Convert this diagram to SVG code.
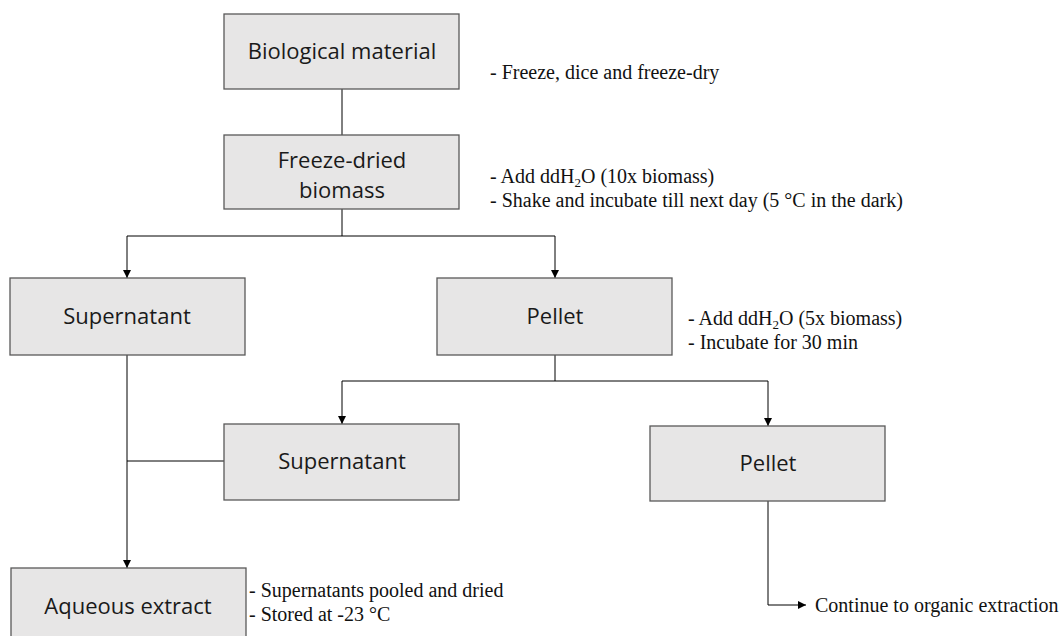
<svg xmlns="http://www.w3.org/2000/svg" width="1060" height="636" viewBox="0 0 1060 636">
<defs>
<marker id="arr" viewBox="0 0 10 10" refX="10" refY="5" markerWidth="8" markerHeight="8" markerUnits="userSpaceOnUse" orient="auto">
<path d="M0,0 L10,5 L0,10 z" fill="#000"/>
</marker>
</defs>
<style>
.box{fill:#e7e6e6;stroke:#595959;stroke-width:1.3}
.lbl{font-family:"Open Sans","Noto Sans",sans-serif;font-size:22px;fill:#1a1a1a;text-anchor:middle}
.note{font-family:"Liberation Serif","Times New Roman",serif;font-size:20px;fill:#111}
.ln{fill:none;stroke:#000;stroke-width:1}
.sub{font-size:13px}
</style>
<rect width="1060" height="636" fill="#fff"/>
<g id="connectors">
<path class="ln" d="M342,89 V135"/>
<path class="ln" d="M342,209 V236"/>
<path class="ln" d="M127,236 H555"/>
<path class="ln" d="M127,236 V278" marker-end="url(#arr)"/>
<path class="ln" d="M555,236 V278" marker-end="url(#arr)"/>
<path class="ln" d="M555,355 V381"/>
<path class="ln" d="M342,381 H768"/>
<path class="ln" d="M342,381 V424" marker-end="url(#arr)"/>
<path class="ln" d="M768,381 V426" marker-end="url(#arr)"/>
<path class="ln" d="M127,355 V568" marker-end="url(#arr)"/>
<path class="ln" d="M224,461 H127"/>
<path class="ln" d="M768,501 V605 H806" marker-end="url(#arr)"/>
</g>
<g id="biological-material">
<rect class="box" x="224" y="14" width="235" height="75"/>
<text class="lbl" x="342" y="59">Biological material</text>
</g>
<g id="freeze-dried-biomass">
<rect class="box" x="224" y="135" width="235" height="74"/>
<text class="lbl" x="342" y="168">Freeze-dried</text>
<text class="lbl" x="342" y="198">biomass</text>
</g>
<g id="supernatant-1">
<rect class="box" x="10" y="278" width="235" height="77"/>
<text class="lbl" x="127" y="324">Supernatant</text>
</g>
<g id="pellet-1">
<rect class="box" x="437" y="278" width="235" height="77"/>
<text class="lbl" x="555" y="324">Pellet</text>
</g>
<g id="supernatant-2">
<rect class="box" x="224" y="424" width="235" height="76"/>
<text class="lbl" x="342" y="469">Supernatant</text>
</g>
<g id="pellet-2">
<rect class="box" x="650" y="426" width="235" height="75"/>
<text class="lbl" x="768" y="471">Pellet</text>
</g>
<g id="aqueous-extract">
<rect class="box" x="11" y="568" width="235" height="80"/>
<text class="lbl" x="128" y="614">Aqueous extract</text>
</g>
<g id="notes">
<text class="note" x="490" y="79">- Freeze, dice and freeze-dry</text>
<text class="note" x="490" y="183">- Add ddH<tspan class="sub" dy="4">2</tspan><tspan dy="-4">O (10x biomass)</tspan></text>
<text class="note" x="490" y="207">- Shake and incubate till next day (5 °C in the dark)</text>
<text class="note" x="688" y="325">- Add ddH<tspan class="sub" dy="4">2</tspan><tspan dy="-4">O (5x biomass)</tspan></text>
<text class="note" x="688" y="349">- Incubate for 30 min</text>
<text class="note" x="249" y="597">- Supernatants pooled and dried</text>
<text class="note" x="249" y="621">- Stored at -23 °C</text>
<text class="note" x="815" y="612">Continue to organic extraction</text>
</g>
</svg>
